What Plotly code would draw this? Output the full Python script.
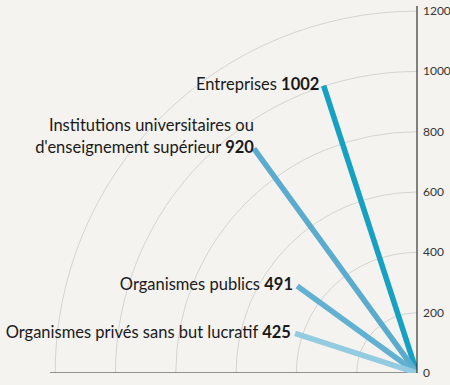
import plotly.graph_objects as go

categories = ["Entreprises", "Institutions universitaires ou<br>d'enseignement supérieur",
              "Organismes publics", "Organismes privés sans but lucratif"]
values = [1002, 920, 491, 425]
angles = [108, 126, 144, 162]
colors = ["#16a0c2", "#5aabcd", "#62b0d2", "#93cbe0"]
tick_vals = [0, 200, 400, 600, 800, 1000, 1200]

fig = go.Figure()

# baseline along the 180° edge
fig.add_trace(go.Scatterpolar(r=[0, 1217], theta=[180, 180], mode="lines",
                              line=dict(color="#333333", width=1.2),
                              hoverinfo="skip", showlegend=False))

for cat, v, a, c in zip(categories, values, angles, colors):
    fig.add_trace(go.Scatterpolar(r=[0, v], theta=[a, a], mode="lines",
                                  line=dict(color=c, width=5.5),
                                  showlegend=False))
    if "<br>" in cat:
        label = f"{cat} <b>{v}</b><br> "
    else:
        label = f"{cat} <b>{v}</b>"
    fig.add_trace(go.Scatterpolar(r=[v], theta=[a], mode="text",
                                  text=[label + " "], textposition="middle left",
                                  textfont=dict(family="Lato", size=16.5, color="#1a1a1a"),
                                  showlegend=False))

fig.update_layout(
    width=450, height=385,
    margin=dict(l=0, r=0, t=0, b=0),
    paper_bgcolor="#f5f3f0",
    polar=dict(
        bgcolor="rgba(0,0,0,0)",
        sector=[90, 180],
        domain=dict(x=[50/450, 417/450], y=[12/385, 379/385]),
        radialaxis=dict(range=[0, 1217], angle=90, side="clockwise",
                        tickvals=tick_vals, ticks="outside", ticklen=3,
                        tickcolor="rgba(0,0,0,0)", showline=True, tickangle=90,
                        linecolor="#333333", linewidth=1.2,
                        gridcolor="#d6d4d0", gridwidth=0.8,
                        tickfont=dict(family="Lato", size=12, color="#333333")),
        angularaxis=dict(showline=False, showgrid=False, showticklabels=False,
                         ticks="", direction="counterclockwise", rotation=0),
    ),
)

fig.write_html("out.html")
